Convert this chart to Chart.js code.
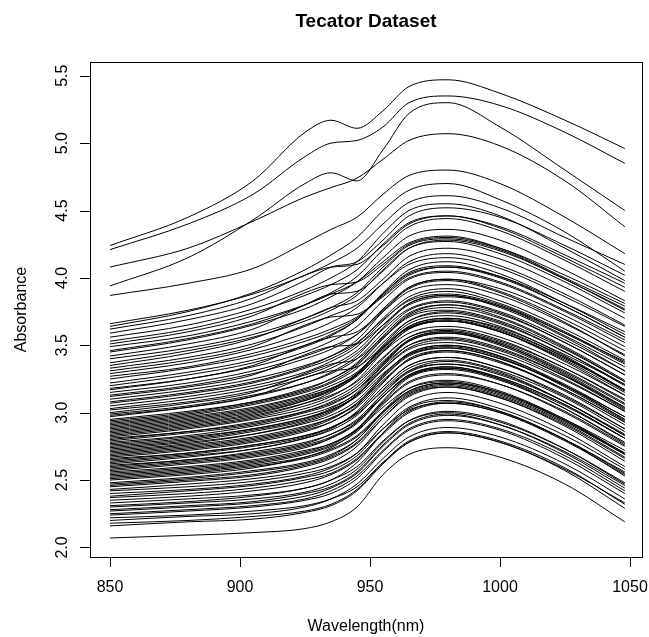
<!DOCTYPE html>
<html>
<head>
<meta charset="utf-8">
<script src="https://cdn.jsdelivr.net/npm/chart.js@4.4.1/dist/chart.umd.min.js"></script>
<style>
  html, body { margin: 0; padding: 0; background: #fff; }
  #wrap { width: 649px; height: 637px; }
</style>
</head>
<body>
<div id="wrap"><canvas id="spectraChart" width="649" height="637"></canvas></div>
<script>
const wavelengths = [850, 880, 905, 925, 935, 945, 955, 965, 980, 1000, 1025, 1048];
const xTicks = [850, 900, 950, 1000, 1050];
const yTicks = [2.0, 2.5, 3.0, 3.5, 4.0, 4.5, 5.0, 5.5];

// absorbance spectra (roughly top to bottom at 850 nm)
const sA = [4.24, 4.45, 4.72, 5.08, 5.17, 5.11, 5.24, 5.42, 5.47, 5.37, 5.17, 4.96];
const sB = [4.21, 4.40, 4.62, 4.90, 5.00, 5.02, 5.12, 5.30, 5.35, 5.28, 5.08, 4.85];
const sD = [4.08, 4.22, 4.42, 4.60, 4.67, 4.74, 4.88, 5.02, 5.07, 4.98, 4.72, 4.38];
const sC = [3.94, 4.15, 4.43, 4.70, 4.78, 4.72, 4.95, 5.22, 5.30, 5.12, 4.80, 4.50];
const sE = [3.87, 3.96, 4.07, 4.26, 4.36, 4.45, 4.62, 4.76, 4.80, 4.70, 4.45, 4.18];
const s01 = [3.66, 3.76, 3.88, 4.02, 4.11, 4.22, 4.40, 4.56, 4.61, 4.52, 4.30, 4.10];
const s02 = [3.64, 3.75, 3.89, 4.06, 4.17, 4.30, 4.50, 4.65, 4.70, 4.58, 4.34, 4.05];
const s75 = [3.62, 3.72, 3.85, 4.02, 4.08, 4.10, 4.24, 4.40, 4.46, 4.38, 4.17, 3.96];
const s03 = [3.59, 3.69, 3.81, 3.98, 4.08, 4.12, 4.28, 4.46, 4.52, 4.45, 4.24, 4.02];
const s76 = [3.56, 3.65, 3.77, 3.91, 4.00, 4.12, 4.33, 4.50, 4.55, 4.46, 4.22, 3.98];
const s04 = [3.53, 3.62, 3.74, 3.87, 3.95, 4.06, 4.25, 4.41, 4.46, 4.37, 4.15, 3.93];
const s77 = [3.51, 3.60, 3.72, 3.89, 3.95, 3.97, 4.10, 4.25, 4.30, 4.22, 4.02, 3.81];
const s05 = [3.49, 3.57, 3.68, 3.80, 3.88, 3.97, 4.12, 4.26, 4.31, 4.22, 4.00, 3.79];
const s71 = [3.46, 3.55, 3.66, 3.80, 3.89, 4.01, 4.21, 4.38, 4.44, 4.35, 4.13, 3.90];
const s06 = [3.45, 3.54, 3.65, 3.77, 3.86, 3.97, 4.15, 4.31, 4.36, 4.28, 4.06, 3.83];
const s07 = [3.42, 3.51, 3.62, 3.80, 3.88, 3.90, 4.05, 4.22, 4.28, 4.20, 3.99, 3.76];
const s78 = [3.40, 3.48, 3.58, 3.70, 3.78, 3.89, 4.08, 4.24, 4.29, 4.21, 3.99, 3.77];
const s08 = [3.37, 3.46, 3.56, 3.68, 3.76, 3.87, 4.06, 4.22, 4.27, 4.18, 3.97, 3.74];
const s70 = [3.35, 3.44, 3.55, 3.70, 3.78, 3.83, 3.99, 4.16, 4.22, 4.14, 3.93, 3.70];
const s09 = [3.33, 3.41, 3.51, 3.64, 3.72, 3.80, 3.96, 4.10, 4.15, 4.07, 3.86, 3.64];
const s79 = [3.31, 3.39, 3.49, 3.65, 3.71, 3.73, 3.87, 4.02, 4.08, 4.01, 3.81, 3.60];
const s10 = [3.29, 3.37, 3.47, 3.59, 3.67, 3.78, 3.96, 4.12, 4.18, 4.09, 3.88, 3.65];
const s11 = [3.27, 3.34, 3.44, 3.55, 3.62, 3.71, 3.86, 4.00, 4.05, 3.97, 3.76, 3.54];
const s69 = [3.25, 3.33, 3.42, 3.53, 3.60, 3.70, 3.88, 4.03, 4.08, 4.00, 3.79, 3.56];
const s12 = [3.22, 3.30, 3.39, 3.50, 3.58, 3.69, 3.88, 4.04, 4.09, 4.01, 3.79, 3.56];
const s68 = [3.20, 3.28, 3.37, 3.49, 3.57, 3.69, 3.89, 4.06, 4.12, 4.03, 3.81, 3.58];
const s80 = [3.18, 3.25, 3.34, 3.45, 3.53, 3.64, 3.83, 3.99, 4.04, 3.96, 3.75, 3.52];
const s13 = [3.17, 3.25, 3.35, 3.50, 3.56, 3.60, 3.76, 3.93, 3.99, 3.92, 3.72, 3.49];
const s67 = [3.15, 3.22, 3.31, 3.42, 3.49, 3.58, 3.75, 3.90, 3.95, 3.87, 3.66, 3.43];
const s14 = [3.13, 3.20, 3.29, 3.40, 3.47, 3.58, 3.77, 3.93, 3.99, 3.90, 3.69, 3.46];
const s81 = [3.12, 3.19, 3.28, 3.43, 3.49, 3.51, 3.65, 3.80, 3.86, 3.79, 3.59, 3.38];
const s15 = [3.10, 3.17, 3.25, 3.35, 3.42, 3.52, 3.69, 3.83, 3.88, 3.80, 3.59, 3.36];
const s82 = [3.08, 3.15, 3.23, 3.34, 3.42, 3.54, 3.75, 3.92, 3.98, 3.89, 3.67, 3.42];
const s16 = [3.07, 3.14, 3.22, 3.33, 3.40, 3.51, 3.70, 3.86, 3.92, 3.83, 3.62, 3.39];
const s66 = [3.05, 3.12, 3.20, 3.30, 3.38, 3.49, 3.68, 3.84, 3.90, 3.81, 3.60, 3.37];
const s17 = [3.03, 3.10, 3.18, 3.28, 3.35, 3.46, 3.65, 3.81, 3.87, 3.79, 3.57, 3.34];
const s83 = [3.02, 3.08, 3.16, 3.26, 3.33, 3.44, 3.62, 3.77, 3.83, 3.75, 3.54, 3.31];
const s18 = [3.00, 3.07, 3.15, 3.29, 3.36, 3.40, 3.56, 3.73, 3.80, 3.73, 3.52, 3.28];
const s52 = [2.99, 3.05, 3.13, 3.22, 3.29, 3.40, 3.59, 3.76, 3.82, 3.74, 3.52, 3.28];
const s84 = [2.98, 3.04, 3.12, 3.26, 3.31, 3.34, 3.49, 3.64, 3.70, 3.63, 3.43, 3.21];
const s19 = [2.97, 3.04, 3.12, 3.22, 3.30, 3.42, 3.63, 3.81, 3.87, 3.78, 3.56, 3.31];
const s53 = [2.95, 3.01, 3.08, 3.18, 3.25, 3.37, 3.57, 3.74, 3.80, 3.71, 3.49, 3.24];
const s20 = [2.94, 3.00, 3.08, 3.17, 3.25, 3.36, 3.55, 3.71, 3.76, 3.68, 3.47, 3.23];
const s85 = [2.93, 2.99, 3.07, 3.16, 3.23, 3.35, 3.55, 3.72, 3.78, 3.70, 3.48, 3.23];
const s21 = [2.92, 2.98, 3.06, 3.15, 3.22, 3.33, 3.52, 3.68, 3.74, 3.66, 3.45, 3.21];
const s86 = [2.91, 2.97, 3.04, 3.13, 3.20, 3.30, 3.48, 3.63, 3.68, 3.60, 3.40, 3.17];
const s22 = [2.90, 2.96, 3.03, 3.12, 3.18, 3.28, 3.45, 3.59, 3.64, 3.56, 3.36, 3.13];
const s54 = [2.89, 2.95, 3.02, 3.11, 3.18, 3.29, 3.48, 3.63, 3.69, 3.61, 3.41, 3.17];
const s87 = [2.88, 2.94, 3.01, 3.10, 3.17, 3.28, 3.47, 3.64, 3.70, 3.62, 3.41, 3.16];
const s23 = [2.87, 2.93, 3.00, 3.09, 3.16, 3.27, 3.46, 3.62, 3.68, 3.60, 3.39, 3.15];
const s55 = [2.86, 2.92, 2.99, 3.09, 3.17, 3.29, 3.50, 3.68, 3.75, 3.67, 3.45, 3.20];
const s88 = [2.85, 2.91, 2.98, 3.07, 3.13, 3.23, 3.41, 3.56, 3.61, 3.53, 3.33, 3.10];
const s24 = [2.84, 2.90, 2.97, 3.07, 3.15, 3.28, 3.49, 3.66, 3.72, 3.64, 3.42, 3.17];
const s89 = [2.83, 2.89, 2.96, 3.05, 3.12, 3.24, 3.45, 3.62, 3.68, 3.60, 3.38, 3.13];
const s25 = [2.82, 2.88, 2.95, 3.03, 3.10, 3.21, 3.40, 3.56, 3.62, 3.54, 3.33, 3.09];
const s56 = [2.81, 2.86, 2.93, 3.01, 3.07, 3.17, 3.35, 3.50, 3.55, 3.47, 3.27, 3.04];
const s90 = [2.80, 2.86, 2.92, 3.01, 3.08, 3.19, 3.38, 3.54, 3.60, 3.52, 3.31, 3.07];
const s26 = [2.79, 2.85, 2.91, 3.00, 3.06, 3.17, 3.37, 3.53, 3.59, 3.51, 3.30, 3.06];
const s91 = [2.78, 2.83, 2.90, 2.98, 3.04, 3.14, 3.32, 3.47, 3.52, 3.44, 3.24, 3.01];
const s27 = [2.77, 2.82, 2.88, 2.96, 3.02, 3.12, 3.29, 3.43, 3.48, 3.40, 3.20, 2.97];
const s92 = [2.76, 2.81, 2.88, 2.96, 3.03, 3.15, 3.36, 3.54, 3.60, 3.51, 3.29, 3.04];
const s28 = [2.75, 2.80, 2.87, 2.95, 3.02, 3.13, 3.32, 3.48, 3.54, 3.46, 3.25, 3.01];
const s57 = [2.74, 2.79, 2.86, 2.94, 3.01, 3.13, 3.33, 3.50, 3.56, 3.48, 3.27, 3.02];
const s93 = [2.73, 2.78, 2.84, 2.92, 2.98, 3.09, 3.28, 3.44, 3.50, 3.42, 3.21, 2.97];
const s29 = [2.72, 2.77, 2.84, 2.93, 3.00, 3.13, 3.35, 3.53, 3.59, 3.50, 3.28, 3.03];
const s58 = [2.71, 2.76, 2.82, 2.90, 2.96, 3.06, 3.24, 3.39, 3.45, 3.37, 3.17, 2.93];
const s30 = [2.70, 2.75, 2.81, 2.89, 2.96, 3.07, 3.26, 3.42, 3.48, 3.40, 3.20, 2.95];
const s94 = [2.69, 2.74, 2.80, 2.88, 2.95, 3.07, 3.27, 3.44, 3.50, 3.42, 3.20, 2.95];
const s31 = [2.68, 2.73, 2.79, 2.87, 2.93, 3.04, 3.23, 3.39, 3.46, 3.38, 3.17, 2.93];
const s59 = [2.67, 2.72, 2.78, 2.86, 2.93, 3.05, 3.26, 3.43, 3.49, 3.41, 3.19, 2.94];
const s32 = [2.66, 2.70, 2.76, 2.83, 2.89, 2.99, 3.16, 3.31, 3.36, 3.28, 3.08, 2.84];
const s95 = [2.65, 2.70, 2.76, 2.83, 2.89, 3.00, 3.19, 3.35, 3.41, 3.33, 3.12, 2.88];
const s33 = [2.64, 2.69, 2.75, 2.82, 2.89, 3.00, 3.19, 3.35, 3.41, 3.33, 3.13, 2.88];
const s60 = [2.63, 2.68, 2.73, 2.81, 2.87, 2.98, 3.17, 3.33, 3.39, 3.31, 3.11, 2.86];
const s34 = [2.62, 2.67, 2.73, 2.81, 2.88, 3.01, 3.22, 3.40, 3.46, 3.38, 3.16, 2.91];
const s61 = [2.61, 2.65, 2.71, 2.78, 2.84, 2.94, 3.12, 3.27, 3.33, 3.25, 3.05, 2.81];
const s35 = [2.60, 2.65, 2.70, 2.77, 2.84, 2.95, 3.14, 3.30, 3.36, 3.29, 3.08, 2.83];
const s96 = [2.59, 2.64, 2.69, 2.76, 2.82, 2.93, 3.12, 3.28, 3.34, 3.26, 3.06, 2.81];
const s36 = [2.58, 2.63, 2.68, 2.75, 2.81, 2.92, 3.12, 3.28, 3.34, 3.26, 3.06, 2.81];
const s62 = [2.57, 2.62, 2.67, 2.74, 2.81, 2.93, 3.14, 3.31, 3.38, 3.30, 3.08, 2.83];
const s37 = [2.56, 2.60, 2.65, 2.72, 2.77, 2.87, 3.04, 3.18, 3.23, 3.15, 2.95, 2.72];
const s63 = [2.55, 2.59, 2.64, 2.71, 2.77, 2.88, 3.07, 3.23, 3.29, 3.21, 3.01, 2.76];
const s97 = [2.54, 2.58, 2.63, 2.70, 2.76, 2.88, 3.09, 3.27, 3.33, 3.25, 3.03, 2.78];
const s38 = [2.53, 2.57, 2.62, 2.69, 2.75, 2.86, 3.06, 3.22, 3.28, 3.21, 3.00, 2.75];
const s64 = [2.52, 2.56, 2.61, 2.67, 2.73, 2.83, 3.01, 3.16, 3.22, 3.14, 2.94, 2.70];
const s98 = [2.51, 2.55, 2.60, 2.66, 2.72, 2.82, 3.00, 3.15, 3.21, 3.13, 2.93, 2.69];
const s39 = [2.50, 2.54, 2.59, 2.67, 2.74, 2.87, 3.08, 3.26, 3.32, 3.24, 3.03, 2.77];
const s40 = [2.48, 2.52, 2.57, 2.63, 2.69, 2.80, 3.00, 3.16, 3.22, 3.15, 2.94, 2.69];
const s65 = [2.47, 2.51, 2.56, 2.62, 2.68, 2.80, 3.01, 3.18, 3.24, 3.16, 2.95, 2.70];
const s99 = [2.46, 2.50, 2.54, 2.61, 2.67, 2.78, 2.98, 3.14, 3.20, 3.12, 2.92, 2.67];
const s41 = [2.45, 2.49, 2.53, 2.60, 2.66, 2.77, 2.96, 3.12, 3.19, 3.11, 2.91, 2.66];
const s100 = [2.43, 2.47, 2.51, 2.57, 2.63, 2.75, 2.96, 3.13, 3.19, 3.11, 2.90, 2.64];
const s42 = [2.42, 2.45, 2.49, 2.55, 2.60, 2.70, 2.88, 3.02, 3.07, 3.00, 2.80, 2.56];
const s72 = [2.40, 2.43, 2.47, 2.53, 2.59, 2.70, 2.91, 3.08, 3.15, 3.07, 2.86, 2.60];
const s43 = [2.38, 2.42, 2.46, 2.52, 2.57, 2.68, 2.88, 3.04, 3.11, 3.03, 2.83, 2.58];
const s101 = [2.37, 2.40, 2.44, 2.50, 2.55, 2.66, 2.85, 3.01, 3.08, 3.01, 2.80, 2.55];
const s44 = [2.35, 2.38, 2.42, 2.48, 2.54, 2.65, 2.84, 3.00, 3.07, 3.00, 2.79, 2.54];
const s73 = [2.33, 2.36, 2.39, 2.44, 2.50, 2.60, 2.79, 2.94, 3.00, 2.93, 2.73, 2.48];
const s45 = [2.31, 2.34, 2.38, 2.44, 2.50, 2.63, 2.85, 3.03, 3.09, 3.01, 2.80, 2.53];
const s102 = [2.30, 2.33, 2.36, 2.41, 2.47, 2.58, 2.78, 2.94, 3.01, 2.94, 2.73, 2.47];
const s46 = [2.28, 2.31, 2.34, 2.40, 2.45, 2.56, 2.76, 2.92, 2.99, 2.91, 2.71, 2.46];
const s74 = [2.27, 2.30, 2.33, 2.38, 2.44, 2.55, 2.75, 2.91, 2.98, 2.91, 2.70, 2.44];
const s47 = [2.25, 2.28, 2.31, 2.36, 2.42, 2.53, 2.72, 2.88, 2.95, 2.88, 2.68, 2.42];
const s103 = [2.24, 2.27, 2.30, 2.35, 2.40, 2.51, 2.71, 2.87, 2.94, 2.87, 2.66, 2.40];
const s48 = [2.22, 2.24, 2.27, 2.31, 2.36, 2.45, 2.63, 2.78, 2.85, 2.78, 2.58, 2.33];
const s49 = [2.20, 2.23, 2.25, 2.30, 2.36, 2.47, 2.66, 2.82, 2.89, 2.82, 2.62, 2.36];
const s104 = [2.18, 2.20, 2.23, 2.27, 2.32, 2.43, 2.63, 2.79, 2.86, 2.79, 2.59, 2.32];
const s50 = [2.16, 2.19, 2.21, 2.26, 2.31, 2.42, 2.62, 2.78, 2.85, 2.78, 2.57, 2.29];
const s51 = [2.07, 2.09, 2.11, 2.14, 2.19, 2.30, 2.54, 2.69, 2.74, 2.67, 2.47, 2.19];

const spectra = [sA, sB, sD, sC, sE, s01, s02, s75, s03, s76, s04, s77, s05, s71, s06, s07, s78,
  s08, s70, s09, s79, s10, s11, s69, s12, s68, s80, s13, s67, s14, s81, s15, s82, s16, s66, s17,
  s83, s18, s52, s84, s19, s53, s20, s85, s21, s86, s22, s54, s87, s23, s55, s88, s24, s89, s25,
  s56, s90, s26, s91, s27, s92, s28, s57, s93, s29, s58, s30, s94, s31, s59, s32, s95, s33, s60,
  s34, s61, s35, s96, s36, s62, s37, s63, s97, s38, s64, s98, s39, s40, s65, s99, s41, s100, s42,
  s72, s43, s101, s44, s73, s45, s102, s46, s74, s47, s103, s48, s49, s104, s50, s51];

const FONT = '"Liberation Sans", Arial, Helvetica, sans-serif';

// R-style box, ticks, labels and titles
const rAxes = {
  id: 'rAxes',
  afterDraw(chart) {
    const ctx = chart.ctx;
    const a = chart.chartArea;
    const xs = chart.scales.x;
    const ys = chart.scales.y;
    ctx.save();
    ctx.strokeStyle = '#000';
    ctx.fillStyle = '#000';
    ctx.lineWidth = 1;
    ctx.strokeRect(Math.round(a.left) + 0.5, Math.round(a.top) + 0.5,
      Math.round(a.right - a.left), Math.round(a.bottom - a.top));

    ctx.font = '16px ' + FONT;
    ctx.textAlign = 'center';
    ctx.textBaseline = 'middle';
    ctx.beginPath();
    xTicks.forEach(v => {
      const px = Math.round(xs.getPixelForValue(v)) + 0.5;
      ctx.moveTo(px, a.bottom);
      ctx.lineTo(px, a.bottom + 10);
    });
    yTicks.forEach(v => {
      const py = Math.round(ys.getPixelForValue(v)) + 0.5;
      ctx.moveTo(a.left, py);
      ctx.lineTo(a.left - 10, py);
    });
    ctx.stroke();

    xTicks.forEach(v => {
      ctx.fillText(String(v), xs.getPixelForValue(v), 588);
    });
    yTicks.forEach(v => {
      ctx.save();
      ctx.translate(63, ys.getPixelForValue(v));
      ctx.rotate(-Math.PI / 2);
      ctx.fillText(v.toFixed(1), 0, 0);
      ctx.restore();
    });

    ctx.fillText('Wavelength(nm)', (a.left + a.right) / 2, 627);
    ctx.save();
    ctx.translate(22, (a.top + a.bottom) / 2);
    ctx.rotate(-Math.PI / 2);
    ctx.fillText('Absorbance', 0, 0);
    ctx.restore();

    ctx.font = 'bold 19px ' + FONT;
    ctx.fillText('Tecator Dataset', (a.left + a.right) / 2, 22);
    ctx.restore();
  }
};

new Chart('spectraChart', {
  type: 'line',
  data: {
    datasets: spectra.map(s => ({
      data: s.map((v, i) => ({ x: wavelengths[i], y: v })),
      borderColor: '#000',
      borderWidth: 1,
      pointRadius: 0,
      fill: false,
      cubicInterpolationMode: 'monotone'
    }))
  },
  options: {
    responsive: false,
    devicePixelRatio: 1,
    animation: false,
    layout: { padding: { left: 90, right: 7, top: 62, bottom: 80 } },
    plugins: { legend: { display: false }, tooltip: { enabled: false }, title: { display: false } },
    scales: {
      x: { type: 'linear', min: 842.31, max: 1054.62, display: false },
      y: { type: 'linear', min: 1.929, max: 5.602, display: false }
    }
  },
  plugins: [rAxes]
});
</script>
</body>
</html>
